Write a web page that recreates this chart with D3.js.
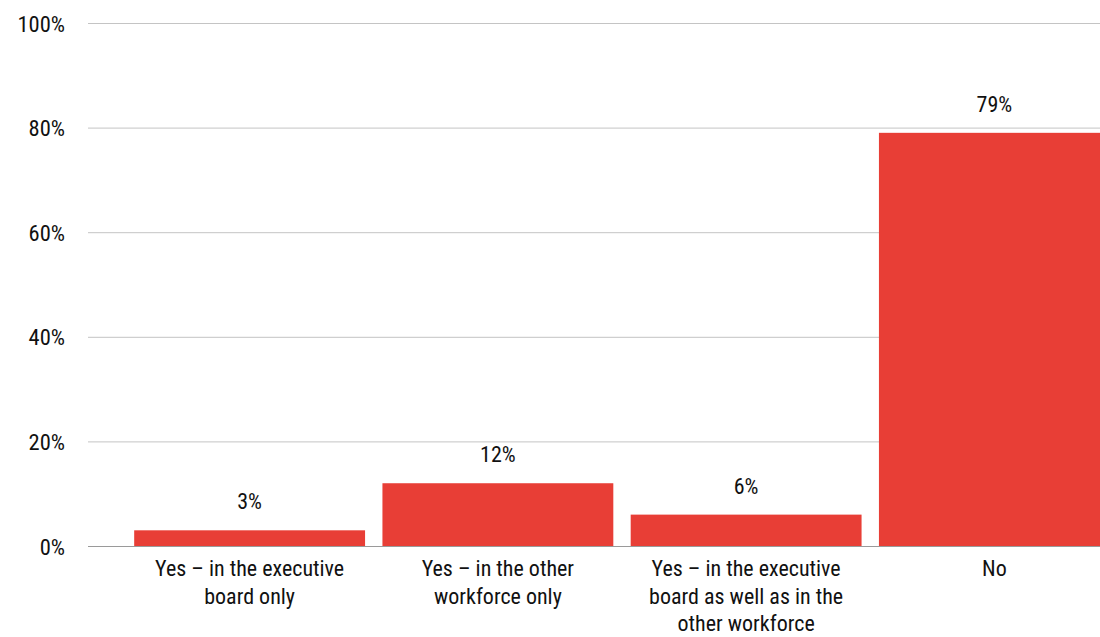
<!DOCTYPE html>
<html>
<head>
<meta charset="utf-8">
<script src="https://cdn.jsdelivr.net/npm/d3@7"></script>
<style>
  html, body { margin: 0; padding: 0; background: #fff; }
  svg { display: block; }
  text { font-family: "Liberation Sans Narrow", "Arial Narrow", "Roboto Condensed", sans-serif; fill: #111; }
</style>
</head>
<body>
<svg id="chart" width="1100" height="637"></svg>
<script>
// Survey answers and their shares (%)
const categories = [
  ["Yes – in the executive", "board only"],
  ["Yes – in the other", "workforce only"],
  ["Yes – in the executive", "board as well as in the", "other workforce"],
  ["No"]
];
const values = [3, 12, 6, 79];
const yTicks = [0, 20, 40, 60, 80, 100];

const svg = d3.select("#chart");
const plot = { left: 88, right: 1100, top: 23, bottom: 546 };

const keys = categories.map((_, i) => i);
const x = d3.scaleBand()
  .domain(keys)
  .range([125.5, 1118.5])
  .paddingInner(0.07)
  .paddingOuter(0.035);

const y = d3.scaleLinear().domain([0, 100]).range([plot.bottom, plot.top]);

// Horizontal gridlines with percentage labels
const yAxis = d3.axisLeft(y)
  .tickValues(yTicks)
  .tickSize(-(plot.right - plot.left))
  .tickPadding(23)
  .tickFormat(d => d + "%");

const gy = svg.append("g")
  .attr("transform", `translate(${plot.left},0)`)
  .call(yAxis);
gy.select(".domain").remove();
gy.selectAll(".tick line")
  .attr("stroke", d => d === 0 ? "#9a9a9a" : "#c4c4c4")
  .attr("stroke-width", 1);
gy.selectAll(".tick text")
  .attr("font-size", 22.5)
  .attr("fill", "#111")
  .attr("dy", "0.36em");

// Bars
svg.append("g").selectAll("rect")
  .data(values)
  .join("rect")
  .attr("x", (d, i) => x(i))
  .attr("width", x.bandwidth())
  .attr("y", d => y(d))
  .attr("height", d => y(0) - y(d))
  .attr("fill", "#e83e36");

// Value labels above bars
svg.append("g").selectAll("text")
  .data(values)
  .join("text")
  .attr("x", (d, i) => x(i) + x.bandwidth() / 2)
  .attr("y", d => y(d) - 21)
  .attr("text-anchor", "middle")
  .attr("font-size", 22)
  .text(d => d + "%");

// Category labels below the baseline
const cat = svg.append("g").selectAll("text")
  .data(categories)
  .join("text")
  .attr("x", (d, i) => x(i) + x.bandwidth() / 2)
  .attr("y", 576)
  .attr("text-anchor", "middle")
  .attr("font-size", 22);
cat.selectAll("tspan")
  .data(d => d)
  .join("tspan")
  .attr("x", function () { return this.parentNode.getAttribute("x"); })
  .attr("dy", (d, j) => j === 0 ? 0 : 27.5)
  .text(d => d);
</script>
</body>
</html>
